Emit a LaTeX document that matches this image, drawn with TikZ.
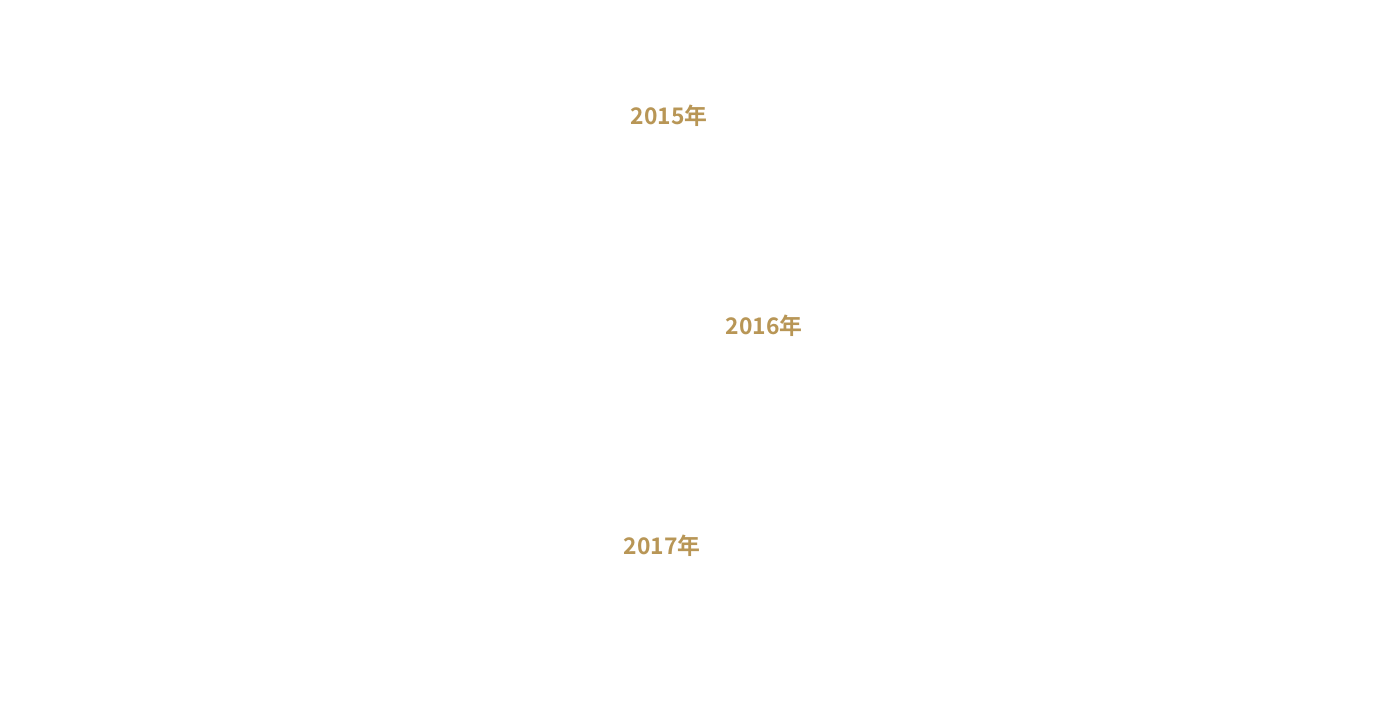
\documentclass[tikz,border=0pt]{standalone}
\usepackage{fontspec}
\newfontfamily\cjk{Noto Sans CJK SC Bold}
\definecolor{gold}{RGB}{184,150,86}
\begin{document}
\begin{tikzpicture}[x=0.01cm,y=-0.01cm,
  yearlabel/.style={text=gold,font=\cjk\fontsize{6.5pt}{8pt}\selectfont,inner sep=0pt,anchor=center}]
\useasboundingbox[fill=white] (0,0) rectangle (1400,708);
\node[yearlabel] (y2015) at (669,116) {2015年};
\node[yearlabel] (y2016) at (764,326) {2016年};
\node[yearlabel] (y2017) at (662,546) {2017年};
\end{tikzpicture}
\end{document}
